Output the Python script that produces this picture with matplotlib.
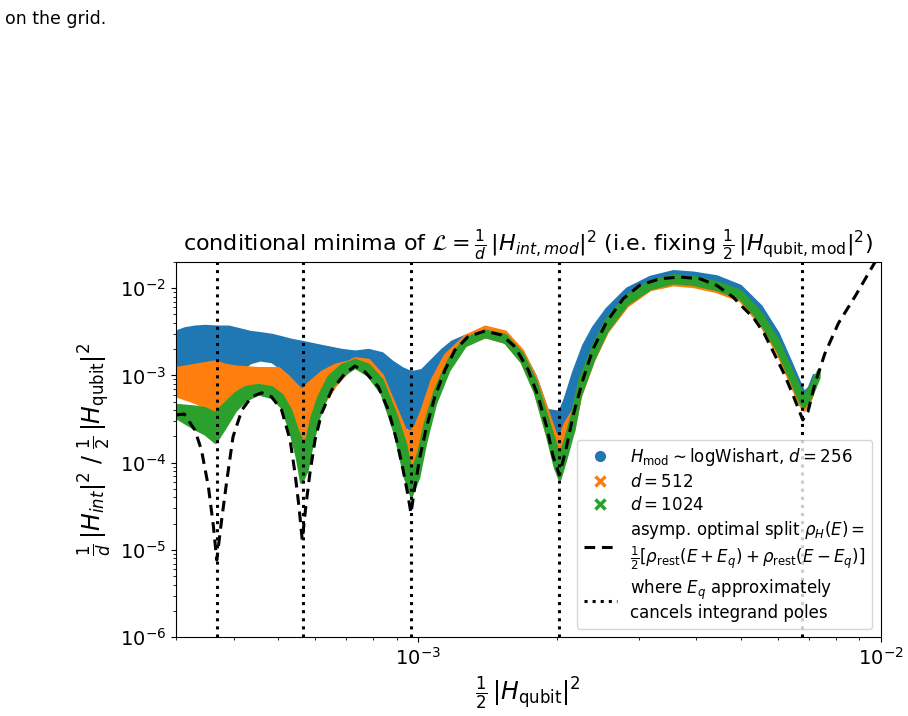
import numpy as np
import matplotlib
matplotlib.use("Agg")
from matplotlib import pyplot as plt
from matplotlib.lines import Line2D

# d = 256 cloud (envelope)
x256 = [3.00e-4, 3.14e-4, 3.30e-4, 3.47e-4, 3.68e-4, 3.90e-4, 4.17e-4, 4.34e-4, 4.56e-4, 4.84e-4,
        5.04e-4, 5.34e-4, 5.63e-4, 5.80e-4, 6.30e-4, 6.85e-4, 7.32e-4, 7.82e-4, 8.36e-4, 8.78e-4,
        9.23e-4, 9.54e-4, 9.67e-4, 9.81e-4, 1.020e-3, 1.072e-3, 1.126e-3, 1.184e-3, 1.264e-3, 1.397e-3,
        1.543e-3, 1.677e-3, 1.791e-3, 1.899e-3, 1.959e-3, 2.023e-3, 2.079e-3, 2.167e-3, 2.278e-3, 2.393e-3,
        2.559e-3, 2.827e-3, 3.173e-3, 3.563e-3, 3.936e-3, 4.42e-3, 4.97e-3, 5.50e-3, 5.99e-3, 6.41e-3,
        6.69e-3, 6.82e-3, 7.00e-3, 7.17e-3]
hi256 = [3.17e-3, 3.46e-3, 3.61e-3, 3.68e-3, 3.61e-3, 3.61e-3, 3.31e-3, 3.14e-3, 3.04e-3, 2.90e-3,
         2.75e-3, 2.54e-3, 2.41e-3, 2.33e-3, 2.13e-3, 1.95e-3, 1.87e-3, 1.95e-3, 1.79e-3, 1.44e-3,
         1.21e-3, 1.12e-3, 1.10e-3, 1.10e-3, 1.15e-3, 1.50e-3, 1.95e-3, 2.43e-3, 2.83e-3, 3.31e-3,
         2.98e-3, 1.90e-3, 9.84e-4, 4.02e-4, 3.91e-4, 3.81e-4, 5.41e-4, 1.09e-3, 2.21e-3, 3.58e-3,
         5.81e-3, 9.84e-3, 1.34e-2, 1.56e-2, 1.50e-2, 1.36e-2, 1.06e-2, 6.22e-3, 3.04e-3, 1.35e-3,
         7.93e-4, 6.33e-4, 7.25e-4, 1.01e-3]
lo256 = [1.09e-3, 1.09e-3, 1.09e-3, 1.09e-3, 1.15e-3, 1.38e-3, 1.21e-3, 1.42e-3, 1.53e-3, 1.46e-3,
         1.25e-3, 8.40e-4, 7.12e-4, 7.76e-4, 1.09e-3, 1.28e-3, 1.42e-3, 1.32e-3, 9.34e-4, 5.23e-4,
         2.58e-4, 2.58e-4, 2.26e-4, 2.58e-4, 4.02e-4, 8.18e-4, 1.32e-3, 1.81e-3, 2.41e-3, 2.83e-3,
         2.54e-3, 1.50e-3, 7.17e-4, 2.70e-4, 2.06e-4, 1.90e-4, 2.37e-4, 4.02e-4, 1.01e-3, 1.95e-3,
         4.09e-3, 7.70e-3, 1.11e-2, 1.27e-2, 1.24e-2, 1.08e-2, 8.56e-3, 4.79e-3, 2.23e-3, 1.04e-3,
         6.46e-4, 5.23e-4, 5.96e-4, 7.76e-4]

# d = 512 cloud
x512 = [3.00e-4, 3.14e-4, 3.30e-4, 3.47e-4, 3.65e-4, 3.83e-4, 4.03e-4, 4.52e-4, 5.00e-4, 5.25e-4,
        5.52e-4, 5.63e-4, 5.80e-4, 6.20e-4, 6.62e-4, 7.08e-4, 7.32e-4, 7.82e-4, 8.36e-4, 8.93e-4,
        9.38e-4, 9.64e-4, 9.86e-4, 1.020e-3, 1.072e-3, 1.145e-3, 1.264e-3, 1.397e-3, 1.543e-3, 1.677e-3,
        1.791e-3, 1.899e-3, 1.978e-3, 2.023e-3, 2.079e-3, 2.167e-3, 2.240e-3, 2.393e-3, 2.559e-3, 2.827e-3,
        3.173e-3, 3.563e-3, 3.936e-3, 4.42e-3, 4.97e-3, 5.50e-3, 5.99e-3, 6.41e-3, 6.69e-3, 6.82e-3,
        7.03e-3, 7.24e-3]
hi512 = [1.21e-3, 1.26e-3, 1.32e-3, 1.38e-3, 1.44e-3, 1.32e-3, 1.26e-3, 1.21e-3, 1.21e-3, 9.66e-4,
         7.31e-4, 6.81e-4, 8.12e-4, 1.10e-3, 1.32e-3, 1.44e-3, 1.57e-3, 1.50e-3, 1.01e-3, 4.38e-4,
         2.37e-4, 2.26e-4, 2.58e-4, 4.02e-4, 8.86e-4, 1.71e-3, 2.83e-3, 3.61e-3, 3.17e-3, 1.95e-3,
         9.66e-4, 4.02e-4, 2.17e-4, 1.90e-4, 2.83e-4, 4.02e-4, 8.86e-4, 2.13e-3, 4.31e-3, 7.91e-3,
         1.14e-2, 1.34e-2, 1.27e-2, 1.11e-2, 8.79e-3, 4.92e-3, 2.41e-3, 1.07e-3, 6.46e-4, 5.37e-4,
         6.81e-4, 1.01e-3]
lo512 = [5.96e-4, 5.47e-4, 5.00e-4, 4.38e-4, 4.02e-4, 4.79e-4, 5.96e-4, 6.81e-4, 5.23e-4, 3.08e-4,
         2.17e-4, 1.82e-4, 2.37e-4, 4.58e-4, 7.76e-4, 1.15e-3, 1.26e-3, 1.09e-3, 6.81e-4, 2.37e-4,
         9.41e-5, 7.56e-5, 8.25e-5, 1.59e-4, 4.58e-4, 1.15e-3, 2.23e-3, 2.83e-3, 2.43e-3, 1.44e-3,
         6.51e-4, 2.17e-4, 1.07e-4, 1.07e-4, 1.40e-4, 2.37e-4, 5.80e-4, 1.50e-3, 3.17e-3, 6.32e-3,
         9.76e-3, 1.11e-2, 1.06e-2, 9.26e-3, 7.31e-3, 3.88e-3, 1.81e-3, 7.93e-4, 4.70e-4, 4.05e-4,
         5.23e-4, 8.15e-4]

# d = 1024 cloud
x1024 = [3.00e-4, 3.30e-4, 3.47e-4, 3.65e-4, 3.83e-4, 4.03e-4, 4.23e-4, 4.52e-4, 4.83e-4, 5.08e-4,
         5.30e-4, 5.48e-4, 5.60e-4, 5.75e-4, 5.90e-4, 6.10e-4, 6.41e-4, 6.85e-4, 7.32e-4, 7.82e-4,
         8.36e-4, 8.93e-4, 9.38e-4, 9.67e-4, 1.002e-3, 1.036e-3, 1.089e-3, 1.164e-3, 1.264e-3, 1.397e-3,
         1.543e-3, 1.677e-3, 1.791e-3, 1.899e-3, 1.978e-3, 2.023e-3, 2.079e-3, 2.167e-3, 2.240e-3, 2.393e-3,
         2.559e-3, 2.827e-3, 3.173e-3, 3.563e-3, 3.936e-3, 4.42e-3, 4.97e-3, 5.50e-3, 5.99e-3, 6.41e-3,
         6.69e-3, 6.82e-3, 7.03e-3, 7.34e-3]
hi1024 = [4.58e-4, 4.38e-4, 4.20e-4, 3.68e-4, 4.79e-4, 6.24e-4, 7.31e-4, 7.76e-4, 7.31e-4, 5.96e-4,
          4.02e-4, 2.37e-4, 1.82e-4, 1.82e-4, 3.36e-4, 5.70e-4, 9.66e-4, 1.32e-3, 1.50e-3, 1.32e-3,
          8.86e-4, 3.68e-4, 1.67e-4, 7.56e-5, 1.28e-4, 2.83e-4, 6.81e-4, 1.50e-3, 2.66e-3, 3.25e-3,
          2.90e-3, 1.79e-3, 8.86e-4, 3.36e-4, 1.67e-4, 1.17e-4, 1.82e-4, 4.02e-4, 9.17e-4, 2.21e-3,
          4.46e-3, 8.27e-3, 1.20e-2, 1.40e-2, 1.34e-2, 1.17e-2, 9.29e-3, 5.20e-3, 2.54e-3, 1.13e-3,
          6.93e-4, 5.79e-4, 7.25e-4, 1.15e-3]
lo1024 = [3.36e-4, 2.48e-4, 2.17e-4, 1.74e-4, 2.58e-4, 4.02e-4, 5.23e-4, 6.24e-4, 5.70e-4, 4.38e-4,
          2.37e-4, 1.17e-4, 6.06e-5, 8.25e-5, 1.67e-4, 3.36e-4, 6.81e-4, 1.01e-3, 1.26e-3, 1.01e-3,
          6.24e-4, 2.17e-4, 6.91e-5, 4.27e-5, 6.91e-5, 1.67e-4, 4.79e-4, 1.15e-3, 2.23e-3, 2.83e-3,
          2.43e-3, 1.44e-3, 6.51e-4, 2.17e-4, 9.00e-5, 6.60e-5, 1.07e-4, 2.37e-4, 5.92e-4, 1.55e-3,
          3.29e-3, 6.63e-3, 1.00e-2, 1.17e-2, 1.12e-2, 9.78e-3, 7.76e-3, 4.15e-3, 1.94e-3, 8.67e-4,
          5.07e-4, 4.43e-4, 5.54e-4, 9.49e-4]

# asymptotic optimal split
x_asym = [3.00e-4, 3.13e-4, 3.30e-4, 3.41e-4, 3.53e-4, 3.62e-4, 3.68e-4, 3.77e-4, 3.87e-4, 3.99e-4,
          4.17e-4, 4.38e-4, 4.60e-4, 4.83e-4, 5.08e-4, 5.30e-4, 5.43e-4, 5.54e-4, 5.63e-4, 5.73e-4,
          5.85e-4, 6.00e-4, 6.20e-4, 6.52e-4, 6.97e-4, 7.32e-4, 7.69e-4, 8.22e-4, 8.64e-4, 9.00e-4,
          9.30e-4, 9.51e-4, 9.67e-4, 9.86e-4, 1.011e-3, 1.045e-3, 1.089e-3, 1.145e-3, 1.203e-3, 1.285e-3,
          1.397e-3, 1.518e-3, 1.622e-3, 1.733e-3, 1.821e-3, 1.899e-3, 1.962e-3, 2.023e-3, 2.089e-3, 2.167e-3,
          2.278e-3, 2.393e-3, 2.559e-3, 2.779e-3, 3.019e-3, 3.335e-3, 3.684e-3, 4.07e-3, 4.42e-3, 4.80e-3,
          4.97e-3, 5.32e-3, 5.60e-3, 5.89e-3, 6.19e-3, 6.46e-3, 6.68e-3, 6.79e-3, 6.97e-3, 7.21e-3,
          7.58e-3, 8.11e-3, 8.82e-3, 9.68e-3, 1.00e-2]
y_asym = [3.52e-4, 3.61e-4, 2.37e-4, 1.40e-4, 5.31e-5, 1.85e-5, 7.68e-6, 2.21e-5, 6.33e-5, 1.98e-4,
          4.02e-4, 5.70e-4, 6.33e-4, 5.70e-4, 4.02e-4, 1.82e-4, 7.62e-5, 3.13e-5, 1.30e-5, 3.13e-5,
          7.62e-5, 1.82e-4, 3.68e-4, 6.81e-4, 1.06e-3, 1.28e-3, 1.10e-3, 7.42e-4, 4.02e-4, 1.82e-4,
          8.25e-5, 4.46e-5, 2.63e-5, 5.31e-5, 1.17e-4, 2.58e-4, 5.70e-4, 1.15e-3, 1.95e-3, 2.78e-3,
          3.23e-3, 2.90e-3, 2.13e-3, 1.15e-3, 5.70e-4, 2.58e-4, 1.17e-4, 7.23e-5, 1.40e-4, 3.49e-4,
          9.17e-4, 2.02e-3, 4.09e-3, 7.56e-3, 1.08e-2, 1.28e-2, 1.34e-2, 1.28e-2, 1.08e-2, 7.91e-3,
          6.51e-3, 4.54e-3, 3.04e-3, 1.78e-3, 1.04e-3, 6.06e-4, 3.87e-4, 3.09e-4, 3.87e-4, 7.93e-4,
          1.78e-3, 3.97e-3, 8.14e-3, 1.90e-2, 2.46e-2]

# E_q positions that cancel integrand poles
x_poles = [3.69e-4, 5.64e-4, 9.65e-4, 2.02e-3, 6.77e-3]

fig = plt.figure(figsize=(9.08, 7.16), dpi=100)
fig.text(0.006, 0.974, "on the grid.", fontsize=12.5, va="center")
ax = fig.add_axes([0.1935, 0.1099, 0.7763, 0.5244])

ax.fill_between(x256, lo256, hi256, color="C0", edgecolor="C0", lw=2.5)
ax.fill_between(x512, lo512, hi512, color="C1", edgecolor="C1", lw=2.5)
ax.fill_between(x1024, lo1024, hi1024, color="C2", edgecolor="C2", lw=2.5)
ax.plot(x_asym, y_asym, color="black", ls="--", lw=2.2, dashes=(3.5, 2.2))
for xp in x_poles:
    ax.axvline(xp, color="black", ls=":", lw=2.2)

ax.set_xscale("log")
ax.set_yscale("log")
ax.set_xlim(3e-4, 1e-2)
ax.set_ylim(1e-6, 2e-2)
ax.tick_params(labelsize=14)

ax.set_title(r"conditional minima of $\mathcal{L} = \frac{1}{d}\,|H_{int,mod}|^2$ "
             r"(i.e. fixing $\frac{1}{2}\,|H_{\rm qubit,mod}|^2$)", fontsize=16)
ax.set_xlabel(r"$\frac{1}{2}\,|H_{\rm qubit}|^2$", fontsize=17)
ax.set_ylabel(r"$\frac{1}{d}\,|H_{int}|^2$ / $\frac{1}{2}\,|H_{\rm qubit}|^2$", fontsize=17)

handles = [
    Line2D([], [], color="C0", marker="o", ls="none", markersize=7),
    Line2D([], [], color="C1", marker="x", ls="none", markersize=7, mew=2.5),
    Line2D([], [], color="C2", marker="x", ls="none", markersize=7, mew=2.5),
    Line2D([], [], color="black", ls="--", lw=2.2, dashes=(3.5, 2.2)),
    Line2D([], [], color="black", ls=":", lw=2.2),
]
labels = [
    r"$H_{\rm mod} \sim$logWishart, $d = 256$",
    r"$d = 512$",
    r"$d = 1024$",
    "asymp. optimal split $\\rho_H(E) =$\n"
    "$\\frac{1}{2}[\\rho_{\\rm rest}(E+E_q) + \\rho_{\\rm rest}(E-E_q)]$",
    "where $E_q$ approximately\ncancels integrand poles",
]
ax.legend(handles, labels, loc="lower right", fontsize=12, labelspacing=0.3)

plt.savefig("out.png", dpi=100)
